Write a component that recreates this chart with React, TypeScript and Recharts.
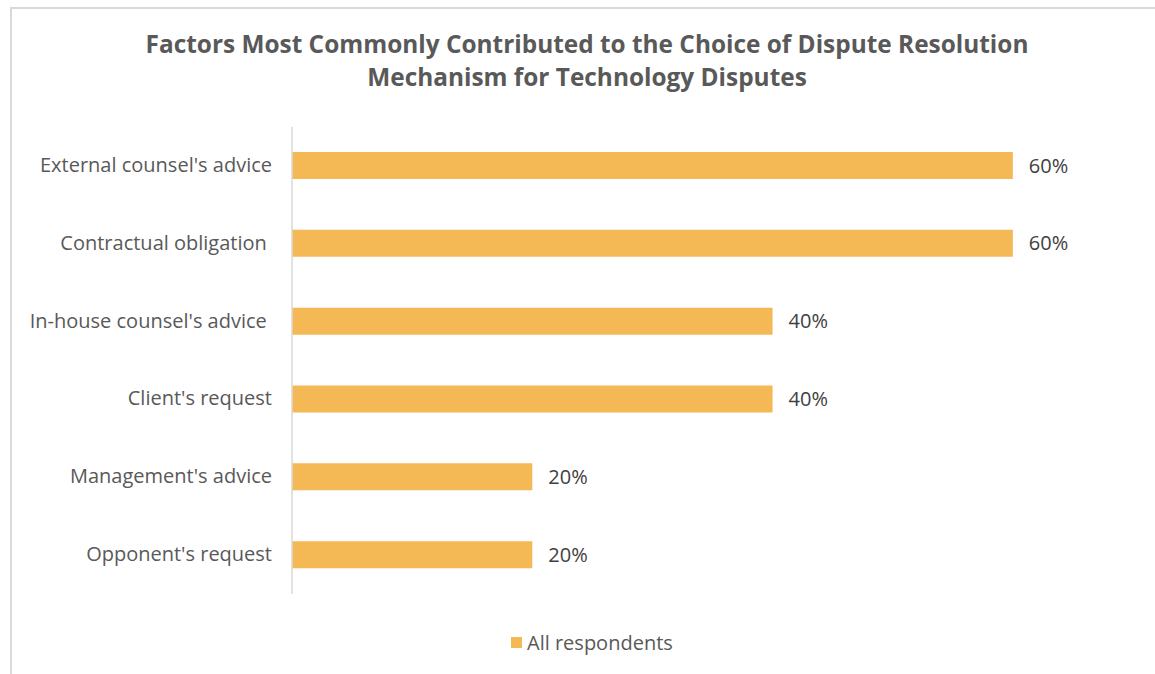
import React from 'react';
import { BarChart, Bar, XAxis, YAxis, LabelList } from 'recharts';

const categories = [
  "External counsel's advice",
  'Contractual obligation ',
  "In-house counsel's advice ",
  "Client's request",
  "Management's advice",
  "Opponent's request",
];
const allRespondents = [60, 60, 40, 40, 20, 20];
const seriesName = 'All respondents';
const titleLines = [
  'Factors Most Commonly Contributed to the Choice of Dispute Resolution',
  'Mechanism for Technology Disputes',
];

const data = categories.map((c, i) => ({ name: c, value: allRespondents[i] }));

const FONT = '"Open Sans", sans-serif';
const BAR = '#F4B955';

const Tick = (props: any) => {
  const { x, y, payload } = props;
  return (
    <text x={x - 12} y={y} dy={6} textAnchor="end" fill="#595959" fontSize={20} fontFamily={FONT} style={{ whiteSpace: 'pre' }}>
      {payload.value}
    </text>
  );
};

export default function App() {
  return (
    <div style={{ position: 'absolute', left: 0, top: 0, width: 1155, height: 674, background: '#fff', overflow: 'hidden' }}>
      <div style={{ position: 'absolute', left: 10, top: 7, width: 1170, height: 700, border: '2px solid #d9d9d9', boxSizing: 'border-box' }} />
      <div style={{ position: 'absolute', left: 0, top: 27, width: 1174, textAlign: 'center', fontFamily: FONT, fontWeight: 700, fontSize: 24.4, lineHeight: '33px', color: '#595959' }}>
        {titleLines.map((t, i) => (
          <div key={i}>{t}</div>
        ))}
      </div>
      <div style={{ position: 'absolute', left: 0, top: 0 }}>
        <BarChart
          width={1155}
          height={674}
          data={data}
          layout="vertical"
          margin={{ top: 127, right: 22, bottom: 80, left: 12 }}
        >
          <XAxis type="number" domain={[0, 70]} hide />
          <YAxis
            type="category"
            dataKey="name"
            width={280}
            axisLine={{ stroke: '#d9d9d9', strokeWidth: 1.5 }}
            tickLine={false}
            tick={<Tick />}
            interval={0}
          />
          <Bar dataKey="value" name={seriesName} fill={BAR} barSize={27} isAnimationActive={false}>
            <LabelList
              dataKey="value"
              position="right"
              offset={16}
              formatter={(v: any) => `${v}%`}
              style={{ fill: '#404040', fontSize: 20, fontFamily: FONT }}
            />
          </Bar>
        </BarChart>
      </div>
      <div style={{ position: 'absolute', left: 511, top: 628, height: 28, display: 'flex', alignItems: 'center', fontFamily: FONT, fontSize: 20, color: '#595959' }}>
        <span style={{ display: 'inline-block', width: 11, height: 11, background: BAR, marginRight: 5 }} />
        <span>{seriesName}</span>
      </div>
    </div>
  );
}
